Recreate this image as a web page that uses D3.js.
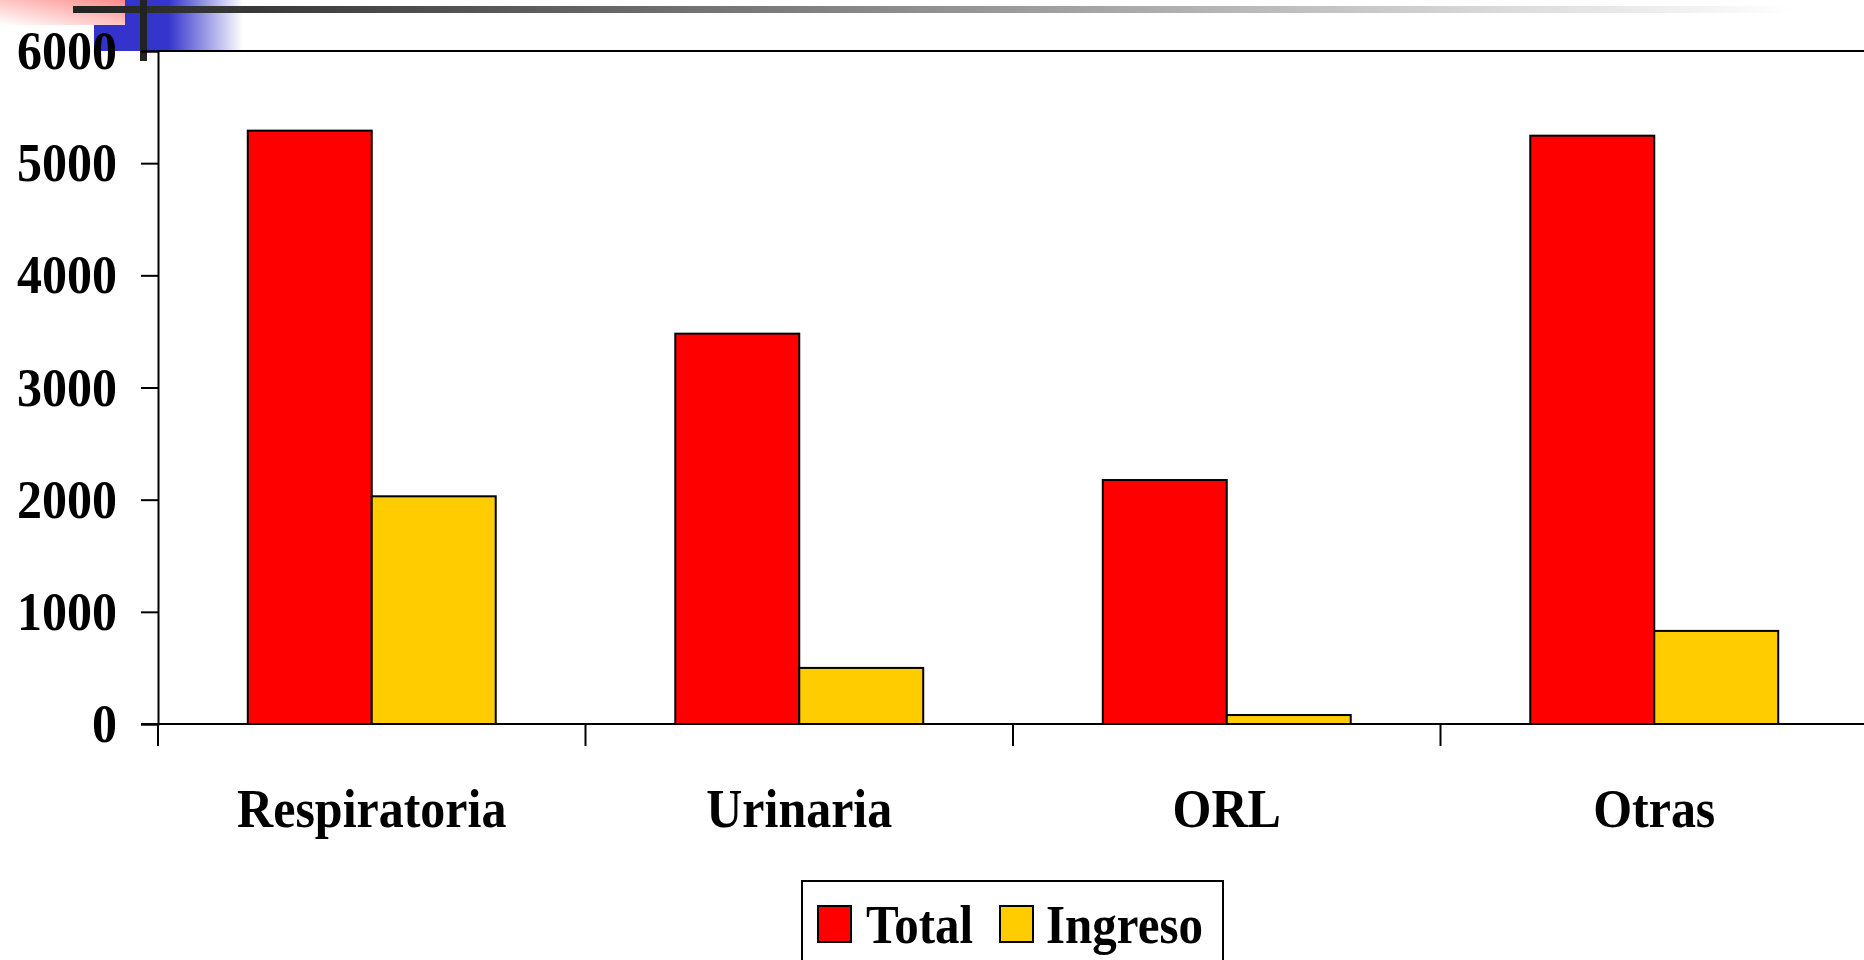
<!DOCTYPE html>
<html>
<head>
<meta charset="utf-8">
<script src="https://cdn.jsdelivr.net/npm/d3@7"></script>
<style>
  body { margin: 0; background: #fff; }
  svg { display: block; }
  text { font-family: "Liberation Serif", "Times New Roman", serif; font-weight: bold; fill: #000; }
</style>
</head>
<body>
<div id="chart"></div>
<script>
// chart data
const categories = ["Respiratoria", "Urinaria", "ORL", "Otras"];
const seriesNames = ["Total", "Ingreso"];
const totalValues = [5290, 3480, 2175, 5245];
const ingresoValues = [2030, 500, 80, 830];
const yTicks = [0, 1000, 2000, 3000, 4000, 5000, 6000];
const seriesColors = ["#ff0000", "#ffcc00"];

const width = 1864;
const height = 960;

// plot area (right edge runs slightly off the page, like the original slide)
const plot = { left: 158, top: 51, right: 1868, bottom: 724 };

const svg = d3.select("#chart").append("svg")
    .attr("width", width)
    .attr("height", height);

// --- slide decoration in the top left corner ---
const defs = svg.append("defs");

const pinkGrad = defs.append("linearGradient")
    .attr("id", "pinkGrad").attr("x1", "0%").attr("y1", "100%").attr("x2", "100%").attr("y2", "0%");
pinkGrad.append("stop").attr("offset", "0%").attr("stop-color", "#ffffff");
pinkGrad.append("stop").attr("offset", "100%").attr("stop-color", "#ff8a8a");

const blueGrad = defs.append("linearGradient")
    .attr("id", "blueGrad").attr("x1", "0%").attr("x2", "100%");
blueGrad.append("stop").attr("offset", "0%").attr("stop-color", "#3333cc");
blueGrad.append("stop").attr("offset", "50%").attr("stop-color", "#3535cc");
blueGrad.append("stop").attr("offset", "100%").attr("stop-color", "#ffffff");

const lineGrad = defs.append("linearGradient")
    .attr("id", "lineGrad").attr("x1", "0%").attr("x2", "100%");
lineGrad.append("stop").attr("offset", "0%").attr("stop-color", "#222222");
lineGrad.append("stop").attr("offset", "100%").attr("stop-color", "#ffffff");

const deco = svg.append("g").attr("class", "deco");
deco.append("rect").attr("x", 94).attr("y", 0).attr("width", 149).attr("height", 51).attr("fill", "url(#blueGrad)");
deco.append("rect").attr("x", 0).attr("y", 0).attr("width", 125).attr("height", 25).attr("fill", "url(#pinkGrad)");
deco.append("rect").attr("x", 73).attr("y", 6).attr("width", 1720).attr("height", 7).attr("fill", "url(#lineGrad)");
deco.append("rect").attr("x", 140).attr("y", 0).attr("width", 7).attr("height", 61).attr("fill", "#222");

// --- scales ---
const x0 = d3.scaleBand()
    .domain(categories)
    .range([plot.left, plot.right])
    .padding(0);

const x1 = d3.scaleBand()
    .domain(seriesNames)
    .range([x0.bandwidth() * 0.21, x0.bandwidth() * 0.79])
    .padding(0);

const y = d3.scaleLinear()
    .domain([0, 6000])
    .range([plot.bottom, plot.top]);

// top border of plot area
svg.append("line")
    .attr("x1", plot.left).attr("x2", plot.right)
    .attr("y1", plot.top).attr("y2", plot.top)
    .attr("stroke", "#000").attr("stroke-width", 2);

// bars
const rows = categories.map((c, i) => ({ category: c, values: [totalValues[i], ingresoValues[i]] }));

const groups = svg.selectAll(".group")
    .data(rows)
    .enter().append("g")
    .attr("class", "group")
    .attr("transform", d => `translate(${x0(d.category)},0)`);

groups.selectAll("rect")
    .data(d => d.values.map((v, j) => ({ series: seriesNames[j], value: v, idx: j })))
    .enter().append("rect")
    .attr("x", d => x1(d.series))
    .attr("y", d => y(d.value))
    .attr("width", x1.bandwidth())
    .attr("height", d => y(0) - y(d.value))
    .attr("fill", d => seriesColors[d.idx])
    .attr("stroke", "#000")
    .attr("stroke-width", 2);

// y axis
const yAxis = svg.append("g")
    .attr("transform", `translate(${plot.left},0)`)
    .call(d3.axisLeft(y).tickValues(yTicks).tickFormat(d3.format("d")).tickSize(17).tickPadding(24));
yAxis.select(".domain").attr("stroke-width", 2);
yAxis.selectAll(".tick line").attr("stroke-width", 2);
yAxis.selectAll(".tick text")
    .style("font-size", "50px")
    .attr("transform", "scale(1,1.1)");

// x axis line
svg.append("line")
    .attr("x1", plot.left - 17).attr("x2", plot.right)
    .attr("y1", plot.bottom).attr("y2", plot.bottom)
    .attr("stroke", "#000").attr("stroke-width", 2);

// category boundary ticks
const boundaries = categories.map(c => x0(c)).concat([plot.right]);
svg.selectAll(".xtick")
    .data(boundaries)
    .enter().append("line")
    .attr("class", "xtick")
    .attr("x1", d => d).attr("x2", d => d)
    .attr("y1", plot.bottom).attr("y2", plot.bottom + 22)
    .attr("stroke", "#000").attr("stroke-width", 2);

// category labels
svg.selectAll(".xlabel")
    .data(categories)
    .enter().append("text")
    .attr("class", "xlabel")
    .attr("text-anchor", "middle")
    .attr("transform", d => `translate(${x0(d) + x0.bandwidth() / 2},827) scale(1,1.08)`)
    .style("font-size", "50px")
    .text(d => d);

// legend
const legend = svg.append("g").attr("class", "legend");
legend.append("rect")
    .attr("x", 802).attr("y", 881).attr("width", 421).attr("height", 100)
    .attr("fill", "#fff").attr("stroke", "#000").attr("stroke-width", 2);

const legendX = [818, 1000];
const legendText = [866, 1046];
seriesNames.forEach((name, i) => {
    legend.append("rect")
        .attr("x", legendX[i]).attr("y", 906).attr("width", 33).attr("height", 36)
        .attr("fill", seriesColors[i]).attr("stroke", "#000").attr("stroke-width", 2);
    legend.append("text")
        .attr("transform", `translate(${legendText[i]},943) scale(1,1.1)`)
        .style("font-size", "49px")
        .text(name);
});
</script>
</body>
</html>
